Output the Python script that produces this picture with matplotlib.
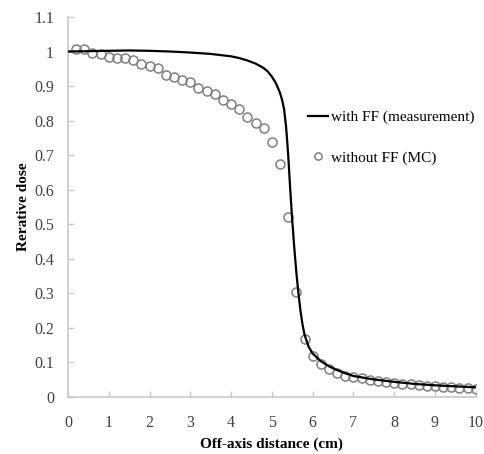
import matplotlib
matplotlib.use("Agg")
import matplotlib.pyplot as plt

# measured profile with flattening filter
ff_x = [0, 0.5, 1, 1.5, 2, 2.5, 3, 3.5, 4, 4.2, 4.4, 4.6, 4.8, 4.9, 5.0, 5.1, 5.2,
        5.25, 5.3, 5.35, 5.4, 5.45, 5.5, 5.55, 5.6, 5.65, 5.7, 5.75, 5.8, 5.9, 6.0,
        6.2, 6.4, 6.6, 6.8, 7.0, 7.5, 8.0, 8.5, 9.0, 9.5, 10.0]
ff_dose = [1.0, 1.001, 1.002, 1.003, 1.002, 1.0, 0.997, 0.993, 0.986, 0.981, 0.974,
           0.965, 0.952, 0.942, 0.927, 0.908, 0.88, 0.86, 0.832, 0.78, 0.70, 0.60,
           0.51, 0.43, 0.36, 0.30, 0.25, 0.21, 0.18, 0.145, 0.125, 0.103, 0.088,
           0.077, 0.068, 0.06, 0.05, 0.043, 0.037, 0.033, 0.03, 0.027]

# Monte Carlo profile without flattening filter
mc_x = [0.2, 0.4, 0.6, 0.8, 1.0, 1.2, 1.4, 1.6, 1.8, 2.0, 2.2, 2.4, 2.6, 2.8, 3.0,
        3.2, 3.4, 3.6, 3.8, 4.0, 4.2, 4.4, 4.6, 4.8, 5.0, 5.2, 5.4, 5.6, 5.8, 6.0,
        6.2, 6.4, 6.6, 6.8, 7.0, 7.2, 7.4, 7.6, 7.8, 8.0, 8.2, 8.4, 8.6, 8.8, 9.0,
        9.2, 9.4, 9.6, 9.8, 10.0]
mc_dose = [1.006, 1.008, 0.997, 0.992, 0.985, 0.982, 0.980, 0.975, 0.965, 0.958,
           0.951, 0.931, 0.927, 0.917, 0.912, 0.894, 0.887, 0.878, 0.859, 0.847,
           0.833, 0.81, 0.792, 0.777, 0.738, 0.674, 0.521, 0.303, 0.167, 0.118,
           0.094, 0.079, 0.068, 0.061, 0.057, 0.053, 0.049, 0.046, 0.043, 0.040,
           0.038, 0.036, 0.034, 0.032, 0.030, 0.029, 0.027, 0.026, 0.025, 0.023]

plt.rcParams["font.family"] = ["Liberation Serif", "DejaVu Serif"]

fig = plt.figure(figsize=(4.84, 4.54), dpi=100)
ax = fig.add_axes([0.1405, 0.1262, 0.8425, 0.8364])

ax.plot(ff_x, ff_dose, color="black", linewidth=1.6, label="with FF (measurement)", zorder=3)
ax.plot(mc_x, mc_dose, linestyle="none", marker="o", markersize=6.5,
        markerfacecolor="none", markeredgecolor="#7f7f7f", markeredgewidth=1.1,
        label="without FF (MC)", zorder=2)

ax.set_xlim(0, 10)
ax.set_ylim(0, 1.1)
ax.set_xticks(range(0, 11))
ax.set_yticks([i / 10 for i in range(12)])
ax.set_yticklabels(["0", "0.1", "0.2", "0.3", "0.4", "0.5", "0.6", "0.7", "0.8",
                    "0.9", "1", "1.1"])

for side in ("top", "right"):
    ax.spines[side].set_visible(False)
for side in ("left", "bottom"):
    ax.spines[side].set_color("#c8c8c8")
    ax.spines[side].set_linewidth(1.2)

ax.tick_params(axis="both", direction="in", length=4, width=1, color="#c8c8c8",
               labelsize=11.5, labelcolor="#404040")
ax.tick_params(axis="y", pad=10)
ax.tick_params(axis="x", pad=13)

ax.set_xlabel("Off-axis distance (cm)", fontweight="bold", fontsize=11, labelpad=5)
ax.set_ylabel("Rerative dose", fontweight="bold", fontsize=11, labelpad=3)

ax.legend(loc="upper left", bbox_to_anchor=(0.555, 0.79), frameon=False,
          fontsize=11, handlelength=1.3, handletextpad=0.2, labelspacing=1.75,
          markerscale=0.8)

fig.savefig("out.png", dpi=100)
